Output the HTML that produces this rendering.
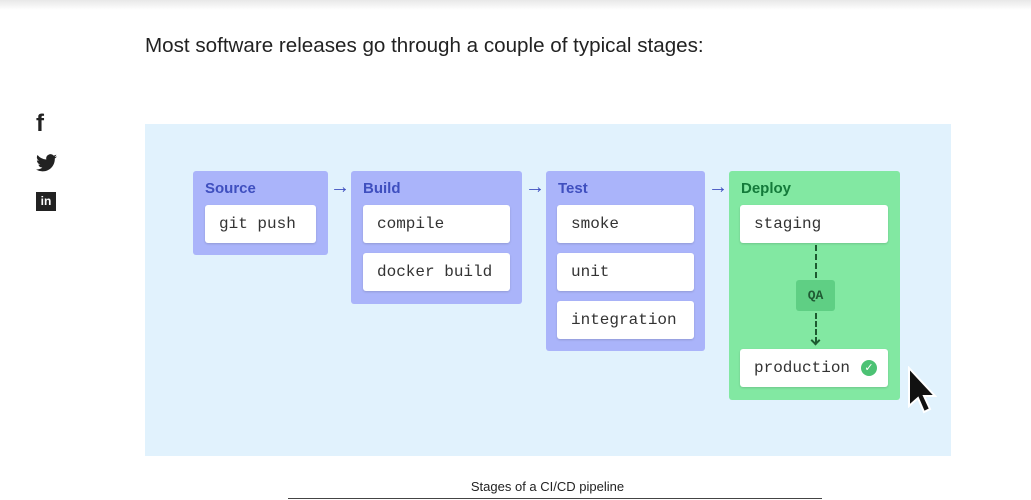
<!DOCTYPE html>
<html><head><style>
body{margin:0;width:1031px;height:500px;background:#fff;position:relative;overflow:hidden;font-family:"Liberation Sans",sans-serif}
.a{position:absolute}
.top{left:0;top:0;width:1031px;height:10px;background:linear-gradient(#e8e8e8,#fff)}
.h{left:145px;top:34px;font-size:20.6px;color:#222}
.panel{left:145px;top:124px;width:806px;height:332px;background:#e1f2fd}
.g{background:#aab4fa;border-radius:3px}
.gh{font-weight:bold;font-size:15px;color:#3f4fbf}
.c{background:#fff;border-radius:3px;box-shadow:0 1px 2px rgba(0,0,0,.15);font-family:"Liberation Mono",monospace;font-size:16px;color:#333;line-height:39px;padding-left:14px;box-sizing:border-box;height:38px}
.arr{font-size:20px;font-weight:bold;color:#3f4fbf}
</style></head><body>
<div class="a top"></div>
<div class="a h">Most software releases go through a couple of typical stages:</div>
<div class="a" style="left:36px;top:110px;font-size:24px;font-weight:bold;color:#222">f</div>
<svg class="a" style="left:36px;top:154px" width="21" height="18" viewBox="0 0 24 20"><path d="M24 2.4a10 10 0 0 1-2.8.8A5 5 0 0 0 23.3.4a10 10 0 0 1-3.1 1.2A4.9 4.9 0 0 0 11.8 6 14 14 0 0 1 1.7.9a4.9 4.9 0 0 0 1.5 6.6A5 5 0 0 1 1 6.9a4.9 4.9 0 0 0 3.9 4.8 5 5 0 0 1-2.2.1 4.9 4.9 0 0 0 4.6 3.4A9.9 9.9 0 0 1 0 17.3 14 14 0 0 0 7.5 19.5c9 0 14-7.5 14-14v-.6A10 10 0 0 0 24 2.4z" fill="#222"/></svg>
<div class="a" style="left:36px;top:192px;width:20px;height:19px;background:#222;color:#fff;font-size:12px;font-weight:bold;text-align:center;line-height:19px">in</div>
<div class="a panel"></div>

<div class="a g" style="left:193px;top:171px;width:135px;height:84px"></div>
<div class="a gh" style="left:205px;top:180px">Source</div>
<div class="a c" style="left:205px;top:205px;width:111px">git push</div>

<div class="a arr" style="left:330px;top:176px">→</div>
<div class="a g" style="left:351px;top:171px;width:171px;height:133px"></div>
<div class="a gh" style="left:363px;top:180px">Build</div>
<div class="a c" style="left:363px;top:205px;width:147px">compile</div>
<div class="a c" style="left:363px;top:253px;width:147px">docker build</div>

<div class="a arr" style="left:525px;top:176px">→</div>
<div class="a g" style="left:546px;top:171px;width:159px;height:180px"></div>
<div class="a gh" style="left:558px;top:180px">Test</div>
<div class="a c" style="left:557px;top:205px;width:137px">smoke</div>
<div class="a c" style="left:557px;top:253px;width:137px">unit</div>
<div class="a c" style="left:557px;top:301px;width:137px">integration</div>

<div class="a arr" style="left:708px;top:176px">→</div>
<div class="a" style="left:729px;top:171px;width:171px;height:229px;background:#82e8a2;border-radius:3px"></div>
<div class="a gh" style="left:741px;top:180px;color:#137a3a">Deploy</div>
<div class="a c" style="left:740px;top:205px;width:148px">staging</div>
<div class="a" style="left:815px;top:245px;height:33px;border-left:2px dashed #1d5a30"></div>
<div class="a" style="left:796px;top:280px;width:39px;height:31px;background:#5fcf84;border-radius:3px;color:#1f5a33;font-size:13px;font-weight:bold;text-align:center;line-height:31px;font-family:'Liberation Mono',monospace">QA</div>
<div class="a" style="left:815px;top:313px;height:30px;border-left:2px dashed #1d5a30"></div>
<div class="a" style="left:812px;top:337px;width:5px;height:5px;border-right:2px solid #1d5a30;border-bottom:2px solid #1d5a30;transform:rotate(45deg)"></div>
<div class="a c" style="left:740px;top:349px;width:148px">production</div>
<div class="a" style="left:861px;top:360px;width:16px;height:16px;border-radius:50%;background:#4cc274;color:#fff;font-size:11px;text-align:center;line-height:16px">✓</div>
<svg class="a" style="left:907px;top:366px" width="30" height="50" viewBox="0 0 30 50"><path d="M2 2 L2 40 L11 32 L17 46 L23 43 L17 30 L28 30 Z" fill="#111" stroke="#fff" stroke-width="2"/></svg>

<div class="a" style="left:0;width:1031px;top:479px;text-align:center;font-size:13px;color:#222;padding-left:64px;box-sizing:border-box">Stages of a CI/CD pipeline</div>
<div class="a" style="left:288px;top:498px;width:534px;height:1px;background:#444"></div>
</body></html>
